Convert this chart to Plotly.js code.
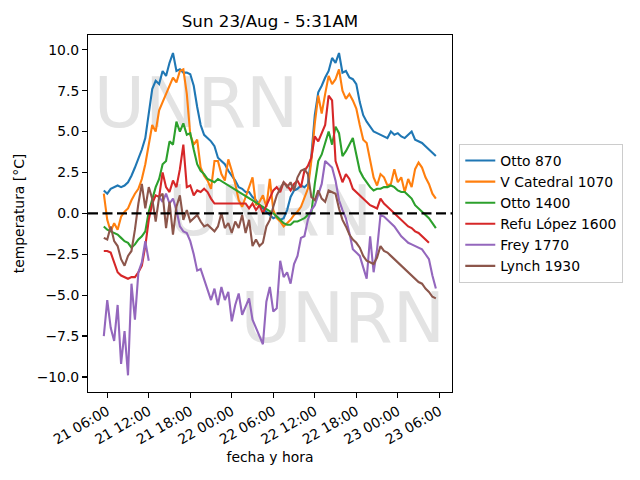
<!DOCTYPE html>
<html>
<head>
<meta charset="utf-8">
<script src="https://cdn.plot.ly/plotly-3.0.1.min.js"></script>
<style>html,body{margin:0;padding:0;background:#fff;}#chart{width:640px;height:480px;}</style>
</head>
<body>
<div id="chart"></div>
<script>
// Sampling grid: readings every 30 minutes from 21/Aug 05:30 to 23/Aug 05:30
const firstSample = '2020-08-21T05:30:00';
const sampleStepMinutes = 30;

const seriesNames = ['Otto 870', 'V Catedral 1070', 'Otto 1400', 'Refu López 1600', 'Frey 1770', 'Lynch 1930'];

const otto870 = [1.4,1.2,1.5,1.6,1.7,1.6,1.7,1.9,2.3,2.8,
 3.3,3.9,4.6,6.0,7.6,8.1,7.9,8.7,8.4,9.2,
 9.8,8.7,8.8,8.6,8.6,8.5,7.8,6.5,5.4,4.8,
 4.6,4.4,4.1,3.4,3.2,3.0,2.6,2.3,2.0,1.6,
 1.5,1.3,1.3,1.0,0.8,0.5,0.3,0.1,-0.1,-0.3,
 -0.2,-0.4,-0.3,0.2,1.0,1.4,1.5,1.7,1.6,1.8,
 3.5,6.0,7.4,7.8,8.3,8.7,9.5,9.2,9.8,8.6,
 8.7,8.3,8.2,7.9,6.8,6.0,5.6,5.3,5.0,4.9,
 4.8,4.7,4.6,5.0,4.8,4.9,4.7,4.6,4.8,5.0,
 4.5,4.4,4.3,4.1,3.9,3.7,3.5];

const vCatedral1070 = [1.2,-0.4,-1.1,-0.6,-1.0,-0.2,0.1,0.3,0.8,1.2,
 1.5,2.1,3.0,4.3,5.4,5.0,6.3,6.8,7.3,7.8,
 8.3,8.0,8.7,8.8,7.3,4.8,4.2,4.5,2.8,2.3,
 2.0,1.5,3.2,3.2,2.4,2.0,3.3,2.6,1.8,0.8,
 0.4,1.0,1.6,2.2,0.5,0.7,1.1,0.4,2.1,0.2,
 -0.3,-0.5,-0.8,-0.6,-0.4,-0.1,0.1,0.4,0.9,1.5,
 3.2,5.5,7.2,6.1,7.3,8.4,7.9,8.2,8.8,7.5,
 7.0,7.3,6.9,6.4,5.4,4.5,4.3,3.3,2.2,1.7,
 2.4,2.2,1.7,1.8,2.7,1.9,2.2,1.3,2.1,1.6,
 2.7,3.1,2.8,2.2,1.8,1.2,0.9];

const otto1400 = [-0.8,-1.0,-1.1,-1.2,-1.3,-1.5,-1.7,-1.8,-2.1,-1.9,
 -1.6,-1.4,-1.1,0.1,0.9,1.6,2.1,3.0,3.2,4.4,
 4.2,5.6,5.0,5.5,4.8,4.9,3.9,3.0,2.6,2.4,
 2.1,2.0,1.9,2.1,null,null,null,null,null,null,
 null,null,null,null,null,null,null,null,0.1,0.0,
 -0.2,-0.4,-0.6,-0.7,-0.7,-0.5,-0.5,-0.4,-0.3,-0.1,
 0.0,1.8,3.2,3.6,4.3,5.0,4.2,5.3,4.9,3.5,
 3.8,4.2,4.6,3.6,2.6,2.2,1.9,1.6,1.4,1.5,
 1.5,1.6,1.6,1.7,1.6,1.4,1.3,1.3,1.1,0.9,
 0.5,0.3,0.1,-0.1,-0.3,-0.6,-0.9];

const refuLopez1600 = [-2.3,-2.3,-2.4,-3.0,-3.6,-3.8,-3.9,-4.0,-3.9,-3.9,
 -3.6,-3.2,-2.0,-0.4,0.6,1.1,1.0,2.5,1.6,1.3,
 2.0,1.6,2.7,4.2,1.6,1.7,1.1,1.4,1.3,1.5,
 1.3,0.9,0.6,0.6,0.6,0.6,0.6,0.6,0.6,0.6,
 0.6,0.6,0.3,0.6,0.2,0.5,0.0,0.5,0.9,1.4,
 1.6,1.3,1.9,1.7,1.4,1.8,2.0,1.6,2.6,2.9,
 3.4,4.7,4.4,4.9,5.4,7.2,6.9,3.2,2.5,1.9,
 2.4,2.1,1.5,1.3,1.1,0.9,0.7,0.5,0.4,0.3,
 0.9,0.6,0.4,0.2,0.0,-0.2,-0.4,-0.6,-0.8,-0.9,
 -1.1,-1.2,-1.4,-1.6,-1.8,null,null];

const frey1770 = [-7.5,-5.3,-7.0,-7.8,-5.6,-9.2,-7.2,-9.9,-4.3,-6.5,
 -3.6,-3.0,-1.7,-2.9,null,null,1.0,0.7,1.2,0.6,
 0.9,0.2,-0.8,-1.1,-1.2,-1.7,-2.5,-3.5,-3.4,-4.0,
 -4.6,-5.3,-4.6,-5.6,-4.5,-5.3,-4.8,-6.6,-5.6,-4.9,
 -6.2,-5.7,-5.2,-6.5,-7.0,-7.4,-8.0,-5.4,-4.5,-6.0,
 -5.8,-2.9,-3.9,-3.6,-4.3,-3.1,-2.6,-1.5,-1.4,-0.4,
 0.2,0.5,1.2,1.8,3.2,3.0,2.8,2.0,0.8,0.2,
 -0.3,-1.2,-2.2,-2.4,-2.6,-3.3,-4.0,-1.4,-3.6,-2.2,
 -0.1,-0.2,-0.4,-0.6,-0.8,-1.1,-1.4,-1.6,-1.8,-1.9,
 -2.0,-2.1,-2.2,-2.5,-2.8,-3.8,-4.6];

const lynch1930 = [-1.5,-1.6,-0.8,-1.7,-2.0,-2.8,-3.2,-2.6,-2.3,-1.0,
 0.6,1.8,0.3,1.6,0.9,-0.5,1.0,1.2,-0.9,0.7,
 -1.3,0.4,1.1,-0.4,0.2,-0.5,-0.3,-0.1,-0.5,-0.8,
 -0.7,-0.9,-1.1,-0.8,0.0,-0.9,-0.6,-1.2,-0.5,-0.9,
 -0.1,-1.2,-0.4,-2.0,-1.6,-2.0,-1.8,-0.8,-0.4,0.4,
 1.1,1.5,1.9,1.6,1.9,1.4,2.2,2.6,2.7,2.4,
 1.0,0.8,1.4,0.9,0.7,1.4,1.3,1.2,0.3,-0.4,
 -0.8,-1.3,-1.6,-1.8,-2.1,-2.6,-2.9,-3.0,-3.1,-2.7,
 -2.0,-2.3,-2.4,-2.6,-2.8,-3.0,-3.2,-3.4,-3.6,-3.8,
 -4.0,-4.2,-4.3,-4.6,-4.8,-5.1,-5.2];

const seriesValues = [otto870, vCatedral1070, otto1400, refuLopez1600, frey1770, lynch1930];
const seriesColors = ['#1f77b4', '#ff7f0e', '#2ca02c', '#d62728', '#9467bd', '#8c564b'];
const connectSeriesGaps = [false, false, true, false, false, false];

const chartTitle = 'Sun 23/Aug - 5:31AM';
const xTitle = 'fecha y hora';
const yTitle = 'temperatura [°C]';
const zeroLevel = 0;
const watermarkText = 'UNRN';

function pad(n) { return (n < 10 ? '0' : '') + n; }
function fmt(d) {
  return d.getUTCFullYear() + '-' + pad(d.getUTCMonth() + 1) + '-' + pad(d.getUTCDate()) + ' ' +
    pad(d.getUTCHours()) + ':' + pad(d.getUTCMinutes()) + ':00';
}
const t0 = Date.parse(firstSample + 'Z');
const times = otto870.map((_, i) => fmt(new Date(t0 + i * sampleStepMinutes * 60000)));

const font = 'DejaVu Sans, Liberation Sans, sans-serif';

const traces = seriesValues.map((vals, i) => ({
  type: 'scatter',
  mode: 'lines',
  name: seriesNames[i],
  x: times,
  y: vals,
  connectgaps: connectSeriesGaps[i],
  legendgroup: 'g' + i,
  line: { color: seriesColors[i], width: 2.1 },
  hoverinfo: 'skip'
}));

const wmFont = { family: font, size: 70, color: '#e3e3e3' };
const wmPositions = [[0.297, 0.824], [0.5, 0.52], [0.70, 0.22]];
const shapes = wmPositions.map(p => ({
  type: 'rect', xref: 'paper', yref: 'paper',
  x0: p[0] - 0.3, x1: p[0] + 0.3, y0: p[1] - 0.1, y1: p[1] + 0.1,
  line: { width: 0 }, fillcolor: 'rgba(0,0,0,0)', layer: 'below',
  label: { text: watermarkText, font: wmFont, textposition: 'middle center' }
}));
shapes.push({
  type: 'line', xref: 'paper', yref: 'y', x0: 0, x1: 1, y0: zeroLevel, y1: zeroLevel,
  line: { color: '#000', width: 2.4, dash: '10px,4.5px' }, layer: 'above'
});

const layout = {
  width: 640, height: 480,
  margin: { l: 88, r: 188, t: 35, b: 88, pad: 0 },
  paper_bgcolor: '#fff', plot_bgcolor: '#fff',
  font: { family: font, size: 13.9, color: '#000' },
  title: { text: chartTitle, font: { family: font, size: 16.7, color: '#000' },
           x: 0.5, xref: 'paper', xanchor: 'center', y: 1 - 21 / 480, yanchor: 'middle' },
  xaxis: {
    type: 'date',
    range: ['2020-08-21 03:13', '2020-08-23 07:50'],
    tick0: '2020-08-21 00:00', dtick: 6 * 3600 * 1000,
    tickformat: '%d %H:%M', tickangle: -30,
    ticks: 'outside', ticklen: 4.9, tickwidth: 1.1, tickcolor: '#000',
    showline: true, linecolor: '#000', linewidth: 1.1, mirror: true,
    showgrid: false, zeroline: false,
    tickfont: { family: font, size: 13.9, color: '#000' },
    title: { text: xTitle, font: { family: font, size: 13.9, color: '#000' }, standoff: 5 }
  },
  yaxis: {
    range: [-10.92, 10.9],
    tick0: 0, dtick: 2.5, tickformat: '.1f',
    ticks: 'outside', ticklen: 4.9, tickwidth: 1.1, tickcolor: '#000',
    showline: true, linecolor: '#000', linewidth: 1.1, mirror: true,
    showgrid: false, zeroline: false,
    tickfont: { family: font, size: 13.9, color: '#000' },
    title: { text: yTitle, font: { family: font, size: 13.9, color: '#000' }, standoff: 8 }
  },
  legend: {
    x: 1.02, xanchor: 'left', y: 0.5, yanchor: 'middle',
    bgcolor: 'rgba(255,255,255,0.8)', bordercolor: '#cccccc', borderwidth: 1,
    font: { family: font, size: 13.9, color: '#000' },
    tracegroupgap: 2.2, traceorder: 'normal'
  },
  shapes: shapes,
  showlegend: true
};

Plotly.newPlot('chart', traces, layout, { staticPlot: true, displayModeBar: false });
</script>
</body>
</html>
